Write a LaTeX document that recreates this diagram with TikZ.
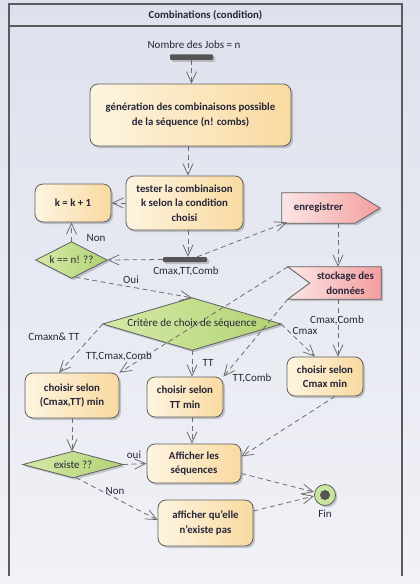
\documentclass[tikz,border=0pt]{standalone}
\usepackage{fontspec}
\setmainfont{Carlito}
\usetikzlibrary{arrows.meta,shadows,backgrounds,calc}
\definecolor{bgtop}{RGB}{222,225,237}
\definecolor{bgbot}{RGB}{241,242,247}
\definecolor{framec}{RGB}{90,90,95}
\definecolor{ink}{RGB}{38,38,58}
\definecolor{boxL}{RGB}{253,244,224}
\definecolor{boxR}{RGB}{249,218,160}
\definecolor{greenL}{RGB}{214,233,168}
\definecolor{greenR}{RGB}{178,211,116}
\definecolor{pinkL}{RGB}{253,230,230}
\definecolor{pinkR}{RGB}{243,158,158}
\definecolor{edgec}{RGB}{95,95,95}
\definecolor{flowc}{RGB}{110,110,110}
\definecolor{barc}{RGB}{85,85,85}
\definecolor{finG}{RGB}{200,230,160}
\begin{document}
\begin{tikzpicture}[x=1pt,y=-1pt,
  font=\fontsize{11}{13}\selectfont, text=ink,
  shadowed/.style={drop shadow={shadow xshift=2pt,shadow yshift=-2pt,fill=black,opacity=0.18}},
  act/.style={draw=edgec, line width=0.8pt, rounded corners=8pt, left color=boxL, right color=boxR,
    shadowed, align=center, font=\fontsize{10.8}{14.5}\selectfont\bfseries, inner sep=0pt},
  txtbox/.style={draw=none, align=center, inner sep=0pt},
  diafill/.style={draw=edgec, line width=0.8pt, left color=greenL, right color=greenR, shadowed},
  pinkfill/.style={draw=edgec, line width=0.8pt, left color=pinkL, right color=pinkR, shadowed},
  bar/.style={fill=barc, rounded corners=1pt, inner sep=0pt, shadowed},
  flow/.style={draw=flowc, line width=0.8pt, dash pattern=on 5pt off 3.5pt,
    -{Straight Barb[length=11pt,width=10pt]}},
  lbl/.style={inner sep=1pt, font=\fontsize{11}{13}\selectfont}]
% background
\begin{scope}[on background layer]
  \fill[top color=bgtop, bottom color=bgbot] (0,0) rectangle (420,584);
\end{scope}
% frame
\draw[framec, line width=1.1pt] (9,576) -- (9,4) -- (402,4) -- (402,576);
\draw[framec, line width=1.1pt] (9,26) -- (402,26);
\node[font=\fontsize{10.8}{13}\selectfont\bfseries] (title) at (205.5,15) {Combinations (condition)};

% start
\node[lbl] (startlbl) at (194,45) {Nombre des Jobs = n};
\node[bar, minimum width=43pt, minimum height=5.5pt] (fork1) at (191.5,57) {};

% activities
\node[act, minimum width=201pt, minimum height=62pt] (gen) at (190.5,115)
  {génération des combinaisons possible\\de la séquence (n! combs)};
\node[act, minimum width=117pt, minimum height=54pt] (tester) at (184.5,203)
  {tester la combinaison\\k selon la condition\\choisi};
\node[act, minimum width=76pt, minimum height=38pt] (kk) at (73,203) {k = k + 1};
\node[bar, minimum width=44pt, minimum height=5pt] (join) at (185,259.5) {};
\node[lbl] (joinlbl) at (186,271) {Cmax,TT,Comb};

\node[txtbox, minimum width=71pt, minimum height=36pt] (kdia) at (71.5,260) {k == n! ??};
\node[txtbox, minimum width=73pt, minimum height=30pt, font=\fontsize{10.8}{13}\selectfont\bfseries] (enr) at (318.5,208) {enregistrer};
\node[txtbox, minimum width=71pt, minimum height=32pt, font=\fontsize{10.8}{14.5}\selectfont\bfseries] (sto) at (345.5,283) {stockage des\\données};
\node[txtbox, minimum width=178pt, minimum height=52pt] (crit) at (192,324) {Critère de choix de séquence};

\node[act, minimum width=94pt, minimum height=45pt] (cmt) at (72,395.5) {choisir selon\\(Cmax,TT) min};
\node[act, minimum width=76pt, minimum height=40pt] (ttm) at (185,397) {choisir selon\\TT min};
\node[act, minimum width=76pt, minimum height=39pt] (cmm) at (325,376.5) {choisir selon\\Cmax min};

\node[txtbox, minimum width=100pt, minimum height=26pt] (exi) at (73,464.5) {existe ??};
\node[act, minimum width=94pt, minimum height=39pt] (aff) at (194,463.5) {Afficher les\\séquences};
\node[act, minimum width=95pt, minimum height=46pt] (nex) at (205.5,523) {afficher qu'elle\\n'existe pas};

\node[circle, draw=edgec, line width=0.8pt, fill=finG, minimum size=21pt, inner sep=0pt, shadowed] (fin) at (325,495) {};
\node[circle, fill=barc, minimum size=10pt, inner sep=0pt] (findot) at (fin.center) {};
\node[lbl] (finlbl) at (325,514) {Fin};

% shapes behind text
\begin{scope}[on background layer]
  \path[diafill] (kdia.north) -- (kdia.east) -- (kdia.south) -- (kdia.west) -- cycle;
  \path[diafill] (crit.north) -- (crit.east) -- (crit.south) -- (crit.west) -- cycle;
  \path[diafill] (exi.north) -- (exi.east) -- (exi.south) -- (exi.west) -- cycle;
  \path[pinkfill] (enr.north west) -- (enr.north east) -- ($(enr.east)+(25,0)$) -- (enr.south east) -- (enr.south west) -- cycle;
  \path[pinkfill] ($(sto.north west)+(-22,0)$) -- (sto.north east) -- (sto.south east) -- ($(sto.south west)+(-22,0)$) -- (sto.west) -- cycle;
\end{scope}

% helper columns
\coordinate (cx) at (188,0);
\coordinate (sx) at (338,0);

% connectors
\draw[flow] (fork1.south) -- (fork1.south |- gen.north);
\draw[flow] (gen.south -| cx) -- (tester.north -| cx);
\draw[flow] (tester.west) -- (kk.east);
\draw[flow] (tester.south -| cx) -- (join.north -| cx);
\draw[flow] (join.west) -- (kdia.east);
\draw[flow] (kdia.north) -- (kdia.north |- kk.south);
\node[lbl] (lnon1) at (96,238) {Non};
\draw[flow] ($(join.north east)+(-10,0)$) -- ($(enr.south west)+(5,-1)$);
\draw[flow] (enr.south -| sx) -- (sto.north -| sx);
\draw[flow] ($(kdia.south)+(4,-1)$) -- (crit.north);
\node[lbl] (loui1) at (131,280) {Oui};
\draw[flow] ($(sto.north west)+(-22,0)$) -- (cmt.north east);
\node[lbl] (l1) at (119,356) {TT,Cmax,Comb};
\draw[flow] ($(sto.south west)+(-22,0)$) -- (ttm.north east);
\node[lbl] (l2) at (252,378) {TT,Comb};
\draw[flow] (sto.south -| sx) -- (cmm.north -| sx);
\node[lbl] (l3) at (337,320) {Cmax,Comb};
\draw[flow] (crit.east) -- ($(cmm.north)+(-10,0)$);
\node[lbl] (l4) at (305,331) {Cmax};
\draw[flow] (crit.west) -- ($(cmt.north)+(-13,0)$);
\node[lbl] (l5) at (54,337) {Cmaxn\& TT};
\draw[flow] (crit.south) -- (crit.south |- ttm.north);
\node[lbl] (l6) at (208,363) {TT};
\draw[flow] (cmt.south) -- (cmt.south |- exi.north);
\draw[flow] (crit.south |- ttm.south) -- (crit.south |- aff.north);
\draw[flow] ($(cmm.south)+(10,0)$) -- ($(aff.east)+(0,-7)$);
\draw[flow] (exi.east) -- (aff.west);
\node[lbl] (loui2) at (134,455) {oui};
\draw[flow] ($(exi.south)+(3,0)$) -- ($(nex.west)+(0,-3)$);
\node[lbl] (lnon2) at (115,491) {Non};
\draw[flow] ($(aff.east)+(0,10)$) -- ($(fin.west)+(0,-3)$);
\draw[flow] ($(nex.east)+(0,-12)$) -- ($(fin.west)+(0,1)$);
\end{tikzpicture}
\end{document}
